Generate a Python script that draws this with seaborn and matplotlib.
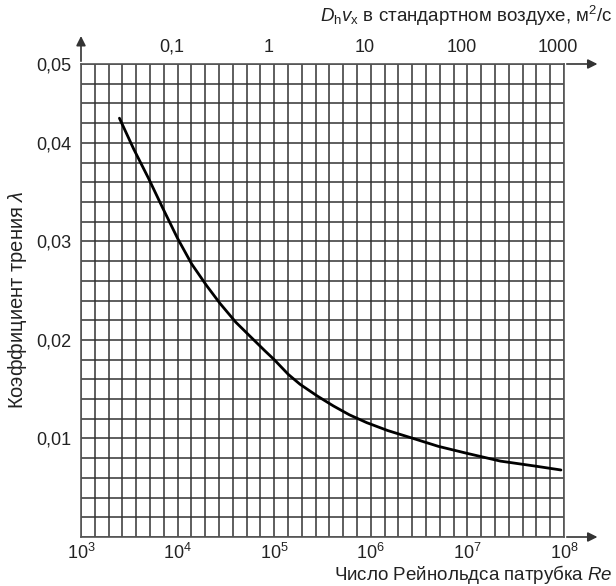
import numpy as np
import pandas as pd
import matplotlib
matplotlib.use("Agg")
import matplotlib.pyplot as plt
from matplotlib.ticker import NullLocator
import seaborn as sns

# values
re_values = [2.5e3, 3.5e3, 5e3, 7e3, 1e4, 1.4e4, 2e4, 2.75e4, 4e4, 6e4, 8e4,
             1e5, 1.4e5, 1.85e5, 2.8e5, 4.1e5, 6e5, 9.1e5, 1.5e6, 2.75e6,
             5e6, 9.8e6, 2.2e7, 5e7, 9.3e7]
friction = [0.0425, 0.0394, 0.0364, 0.0334, 0.0303, 0.0277, 0.0255, 0.0237,
            0.0218, 0.0201, 0.0189, 0.0180, 0.0165, 0.0155, 0.0143, 0.0133,
            0.0124, 0.0116, 0.0108, 0.0100, 0.0092, 0.0085, 0.0077, 0.0072,
            0.0068]

x_ticks = [1e3, 1e4, 1e5, 1e6, 1e7, 1e8]
x_tick_labels = [r"$10^{3}$", r"$10^{4}$", r"$10^{5}$", r"$10^{6}$", r"$10^{7}$", r"$10^{8}$"]
y_ticks = [0.01, 0.02, 0.03, 0.04, 0.048]
y_tick_labels = ["0,01", "0,02", "0,03", "0,04", "0,05"]
top_ticks = [0.1, 1, 10, 100, 1000]
top_tick_labels = ["0,1", "1", "10", "100", "1000"]
NU = 1.15e-5  # Re -> D_h*v_x scale of the top axis

sns.set_theme(style="white")
plt.rcParams["font.family"] = ["Liberation Sans", "DejaVu Sans"]
plt.rcParams["mathtext.fontset"] = "custom"
plt.rcParams["mathtext.rm"] = "Liberation Sans"
plt.rcParams["mathtext.it"] = "Liberation Sans:italic"

df = pd.DataFrame({"Re": re_values, "lam": friction})

fig = plt.figure(figsize=(6.16, 5.86), dpi=100)
ax = fig.add_axes([81 / 616, 1 - 537 / 586, 483 / 616, 473 / 586])

sns.lineplot(data=df, x="Re", y="lam", color="black", lw=2.0, ax=ax, zorder=5)

ax.set_xscale("log")
ax.set_xlim(1e3, 1e8)
ax.set_ylim(0, 0.048)

# uniform grid: 7 cells per decade, 0.002 vertically
grid_x = [10 ** (3 + k / 7) for k in range(36)]
grid_y = np.arange(0, 0.0481, 0.002)
ax.set_xticks(x_ticks)
ax.set_xticklabels(x_tick_labels)
ax.xaxis.set_minor_locator(NullLocator())
ax.set_yticks(y_ticks)
ax.set_yticklabels(y_tick_labels)
ax.grid(False)
for xv in grid_x:
    ax.axvline(xv, color="#333333", lw=1.1, zorder=1)
for yv in grid_y:
    ax.axhline(yv, color="#333333", lw=1.1, zorder=1)

ax.tick_params(axis="both", which="both", length=0, labelsize=13, colors="#222222")
ax.tick_params(axis="x", pad=4)
ax.tick_params(axis="y", pad=7)
for s in ax.spines.values():
    s.set_color("#555555")
    s.set_linewidth(1.2)
ax.set_xlabel("")
ax.set_ylabel("")

top = ax.secondary_xaxis("top", functions=(lambda r: r * NU, lambda d: d / NU))
top.set_xticks(top_ticks)
top.set_xticklabels(top_tick_labels)
top.xaxis.set_minor_locator(NullLocator())
top.tick_params(which="both", length=0, labelsize=13, colors="#222222", pad=6)
top.spines["top"].set_visible(False)

arrow = dict(arrowstyle="-|>", color="#333333", lw=1.2, mutation_scale=14)
ax.annotate("", xy=(1.075, 1), xytext=(1, 1), xycoords="axes fraction",
            arrowprops=arrow, annotation_clip=False)
ax.annotate("", xy=(1.075, 0), xytext=(1, 0), xycoords="axes fraction",
            arrowprops=arrow, annotation_clip=False)
ax.annotate("", xy=(0, 1.065), xytext=(0, 1), xycoords="axes fraction",
            arrowprops=arrow, annotation_clip=False)

fig.text(18 / 616, 1 - 300 / 586, r"Коэффициент трения $\lambda$", rotation=90,
         ha="center", va="center", fontsize=14.5, color="#222222")
fig.text(613 / 616, 1 - 575 / 586, r"Число Рейнольдса патрубка $\mathit{Re}$",
         ha="right", va="center", fontsize=13.5, color="#222222")
fig.text(613 / 616, 1 - 16 / 586,
         r"$D_\mathrm{h}v_\mathrm{x}$ в стандартном воздухе, м$^2$/с",
         ha="right", va="center", fontsize=13.5, color="#222222")

fig.savefig("out.png", dpi=100, facecolor="white")
